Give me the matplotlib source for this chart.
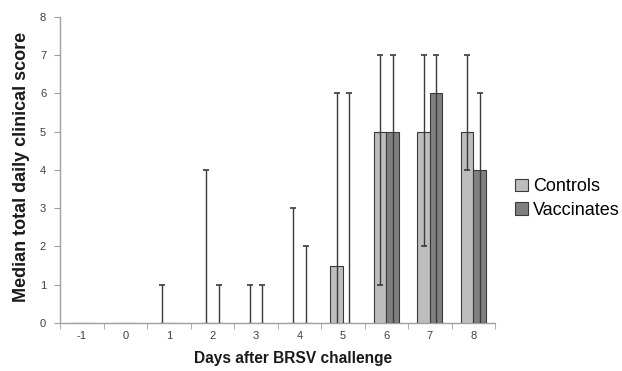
import numpy as np
import matplotlib
matplotlib.use("Agg")
import matplotlib.pyplot as plt
from matplotlib.patches import Patch

days = ['-1', '0', '1', '2', '3', '4', '5', '6', '7', '8']
controls = [0, 0, 0, 0, 0, 0, 1.5, 5, 5, 5]
controls_low = [0, 0, 0, 0, 0, 0, 0, 1, 2, 4]
controls_high = [0, 0, 1, 4, 1, 3, 6, 7, 7, 7]
vaccinates = [0, 0, 0, 0, 0, 0, 0, 5, 6, 4]
vaccinates_low = [0, 0, 0, 0, 0, 0, 0, 0, 0, 0]
vaccinates_high = [0, 0, 0, 1, 1, 2, 6, 7, 7, 6]

plt.rcParams['font.family'] = ['Liberation Sans', 'DejaVu Sans']

fig = plt.figure(figsize=(6.22, 3.71), dpi=100)
ax = fig.add_axes([0.0965, 0.1294, 0.6995, 0.8248])

x = np.arange(len(days))
w = 0.29
ecol = '#3a3a3a'
series = [(controls, controls_low, controls_high, '#bdbdbd', -w / 2),
          (vaccinates, vaccinates_low, vaccinates_high, '#7f7f7f', w / 2)]
for med, lo, hi, col, off in series:
    med = np.array(med, dtype=float)
    lo = np.array(lo, dtype=float)
    hi = np.array(hi, dtype=float)
    ax.bar(x + off, med, width=w, color=col, edgecolor=ecol, linewidth=0.8, zorder=2)
    m = hi > 0
    ax.vlines(x[m] + off, lo[m], hi[m], color=ecol, linewidth=1, zorder=3)
    ax.plot(x[m] + off, hi[m], ls='none', marker='_', ms=5, mew=1.2, color=ecol, zorder=3)
    ml = lo > 0
    ax.plot(x[ml] + off, lo[ml], ls='none', marker='_', ms=5, mew=1.2, color=ecol, zorder=3)

ax.set_xlim(-0.5, len(days) - 0.5)
ax.set_ylim(0, 8)
ax.set_yticks(range(9))
ax.set_xticks(x)
ax.set_xticklabels(days)
ax.set_xticks(np.arange(-0.5, len(days)), minor=True)
ax.tick_params(axis='x', which='major', length=0, pad=6, labelsize=8, labelcolor='#404040')
ax.tick_params(axis='x', which='minor', length=4, color='#a0a0a0', direction='out')
ax.tick_params(axis='y', length=4, color='#a0a0a0', labelsize=8, labelcolor='#404040', pad=6)
for s in ['top', 'right']:
    ax.spines[s].set_visible(False)
for s in ['left', 'bottom']:
    ax.spines[s].set_color('#a0a0a0')
    ax.spines[s].set_linewidth(1)
    ax.spines[s].set_zorder(1)

ax.set_xlabel('Days after BRSV challenge', fontsize=11.2, fontweight='bold', color='#1a1a1a')
ax.xaxis.set_label_coords(0.536, -0.092)
ax.set_ylabel('Median total daily clinical score', fontsize=13, fontweight='bold', color='#1a1a1a')
ax.yaxis.set_label_coords(-0.07, 0.51)

handles = [Patch(facecolor='#bdbdbd', edgecolor=ecol, linewidth=0.8, label='Controls'),
           Patch(facecolor='#7f7f7f', edgecolor=ecol, linewidth=0.8, label='Vaccinates')]
fig.legend(handles=handles, loc='center left', bbox_to_anchor=(0.828, 0.465), frameon=False,
           fontsize=13, handlelength=0.7, handleheight=0.7, handletextpad=0.3, labelspacing=0.35,
           borderaxespad=0, borderpad=0)

fig.savefig('out.png', dpi=100)
